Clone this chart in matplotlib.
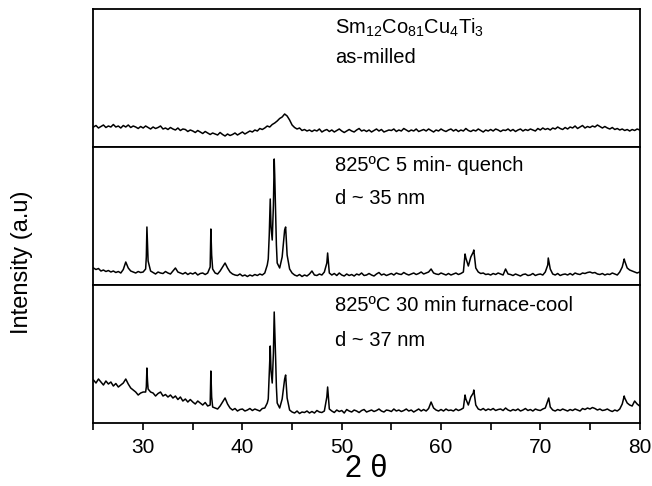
import numpy as np
import matplotlib
matplotlib.use("Agg")
import matplotlib.pyplot as plt
from matplotlib.ticker import MultipleLocator

plt.rcParams["font.family"] = ["Liberation Sans", "DejaVu Sans"]
plt.rcParams["mathtext.fontset"] = "custom"
plt.rcParams["mathtext.rm"] = "Liberation Sans"
plt.rcParams["mathtext.it"] = "Liberation Sans:italic"

# 2-theta grid of the scans (0.25 deg step, 25..80)
two_theta = np.arange(25, 80.001, 0.25)

# as-milled (top panel), intensities on the grid
milled_y = [
    20, 21.5, 19, 20.5, 22, 19.5, 21, 20,
    22.5, 20, 21, 19, 21.5, 20, 22, 19.5,
    21, 20, 18.5, 20.5, 19, 21, 19.5, 18,
    20, 18.5, 19.5, 21, 18, 19, 17.5, 19.5,
    18, 17, 19, 16.5, 18, 17.5, 15.5, 17,
    16, 14.5, 16.5, 15, 13.5, 15.5, 14, 12.5,
    14, 13, 12, 14.5, 12.5, 11, 13, 11.5,
    12.5, 14, 12, 13.5, 15, 13, 14.5, 16,
    15, 17, 16, 18.5, 17.5, 19, 21, 20,
    22.5, 24, 26, 28.5, 30, 33, 31, 27,
    22, 19.5, 18, 19, 16.5, 17.5, 16, 17,
    15.5, 17, 16, 18, 15, 16.5, 17.5, 15.5,
    17, 15, 16.5, 18, 16, 14.5, 16, 17.5,
    16, 15, 17, 18.5, 16, 17, 15.5, 17,
    15, 16.5, 18, 16, 17.5, 15, 16, 17,
    16.5, 18, 15.5, 17, 16, 18.5, 17, 15.5,
    17, 16, 18, 15.5, 16.5, 17.5, 16, 18,
    16.5, 15, 17, 16, 18, 16.5, 15.5, 17,
    18, 16, 17.5, 15.5, 17, 16, 18.5, 16.5,
    15.5, 17, 16, 18, 16.5, 15, 17, 16,
    17.5, 16, 18, 17, 15.5, 17, 16.5, 18,
    16, 17.5, 15.5, 17, 18, 16, 17.5, 16.5,
    18, 17, 16, 18.5, 17, 19, 17.5, 18.5,
    17, 19, 18, 20, 18.5, 17.5, 19.5, 18,
    20, 19, 21, 18.5, 20, 21.5, 19, 20.5,
    19.5, 21, 20, 22, 20.5, 19, 20.5, 19,
    18, 19.5, 17.5, 18.5, 17, 18, 16.5, 17.5,
    16, 17.5, 16.5, 18, 17,
]

# 825C 5 min quench (middle panel)
quench_y = [
    17, 15.5, 16.5, 14, 15, 13.5, 14.5, 13,
    14, 12.5, 13.5, 12, 15.5, 23, 17, 14,
    13, 12, 13.5, 12.5, 13, 16, 24, 14,
    12.5, 11, 13, 12, 11.5, 13.5, 12, 11,
    14, 17, 13, 12, 11, 12.5, 10.5, 12,
    11, 12.5, 10, 11.5, 12, 10.5, 12, 18,
    16, 12, 11, 14, 18, 22, 17, 13,
    11, 10, 9.5, 11, 9, 10, 8.5, 10,
    9, 10.5, 9.5, 11, 10, 12, 20, 70,
    45, 110, 22, 17, 28, 55, 30, 16,
    12, 10, 9, 10.5, 8.5, 10, 9, 11,
    14, 10, 9.5, 11, 10, 13, 22, 12,
    10, 11.5, 9.5, 12, 10, 9, 11, 9.5,
    10.5, 9, 11, 10, 12, 9.5, 10, 11.5,
    10, 9, 11, 12.5, 10, 11, 9.5, 10.5,
    11.5, 10, 12, 11, 10.5, 12.5, 11, 10,
    11, 12, 10.5, 11.5, 13, 11, 12, 13,
    16, 12, 11, 10.5, 12, 11, 10, 11.5,
    10, 11, 12, 10.5, 11.5, 13, 27, 19,
    28, 33, 17, 13, 11.5, 12, 10.5, 11,
    10, 11.5, 10.5, 12, 11, 10, 16, 11,
    10.5, 9.5, 11, 10, 9, 10.5, 11, 9.5,
    10, 11.5, 9.5, 10.5, 11, 10, 13, 20,
    16, 11, 10, 11.5, 9.5, 10.5, 11, 10,
    11.5, 10, 12, 11, 10.5, 12, 11.5, 12.5,
    13, 12, 12.5, 11, 10.5, 11.5, 10, 11,
    10.5, 12, 11, 10, 13, 18, 24, 17,
    15, 14, 13, 12, 13,
]
# extra points on the sharp reflections
quench_peak_x = [30.32, 30.38, 30.44, 36.82, 36.9, 42.6, 42.7, 42.8, 42.88,
                 43.12, 43.2, 43.35, 43.42, 44.35, 48.58, 62.42, 63.3, 70.8, 78.45]
quench_peak_y = [28, 58, 42, 56, 30, 26, 50, 86, 58,
                 80, 126, 70, 40, 58, 32, 31, 35, 27, 26]

# 825C 30 min furnace-cool (bottom panel)
furnace_y = [
    43, 40, 44, 41, 38, 42, 39, 41,
    37, 39.5, 36, 38, 40, 44, 39, 35,
    33, 31, 28, 30, 31, 31, 34, 31,
    30, 27, 29.5, 31, 27, 28.5, 26, 28,
    25, 27, 23.5, 26, 22, 24, 21, 23.5,
    21, 19, 22, 20, 18, 20.5, 17, 18,
    16, 15, 14, 17, 21, 25, 19, 15,
    13, 14.5, 12, 13.5, 14, 12, 13, 14.5,
    12.5, 14, 13, 12, 14.5, 15, 20, 62,
    40, 95, 20, 15, 24, 44, 25, 13,
    11, 10, 12, 9.5, 11, 10.5, 12, 10,
    11.5, 10, 12.5, 11, 10.5, 12, 26, 14,
    12, 10.5, 13, 11.5, 12.5, 10, 13.5, 12,
    11, 13, 12, 10.5, 12.5, 13.5, 11, 12,
    13, 11.5, 12.5, 14, 12, 11, 13, 12.5,
    11.5, 14, 12, 13, 11.5, 12.5, 14, 12,
    13, 11, 12.5, 14, 12, 13.5, 12, 14.5,
    21, 15, 13, 12, 13.5, 12, 14, 12.5,
    13, 12, 14, 12.5, 13.5, 15, 24, 18,
    26, 30, 18, 14, 13, 14.5, 12.5, 14,
    13, 14.5, 12.5, 13.5, 14, 12.5, 15, 13,
    12, 13.5, 12.5, 14, 12, 13, 14.5, 12.5,
    13.5, 12, 14, 13, 12.5, 14, 15, 22,
    16, 13, 12, 13.5, 12.5, 14, 13, 12,
    13.5, 12.5, 14, 13, 12, 14.5, 13.5, 15,
    14, 15.5, 14.5, 13, 14, 12.5, 13, 14,
    12.5, 11.5, 13, 12, 14, 19, 25, 20,
    18, 17, 22, 19, 17,
]
furnace_peak_x = [30.32, 30.38, 30.44, 36.82, 36.9, 42.6, 42.7, 42.8, 42.88,
                  43.12, 43.2, 43.35, 43.42, 44.35, 48.58, 62.42, 63.3, 70.85, 78.45]
furnace_peak_y = [36, 55, 42, 52, 26, 24, 48, 77, 52,
                  70, 111, 62, 36, 48, 36, 28, 33, 25, 27]

labels = [
    ["Sm$_{12}$Co$_{81}$Cu$_{4}$Ti$_{3}$", "as-milled"],
    ["825ºC 5 min- quench", "d ~ 35 nm"],
    ["825ºC 30 min furnace-cool", "d ~ 37 nm"],
]


def merge(x_grid, y_grid, x_extra=(), y_extra=()):
    x = np.concatenate([x_grid, x_extra])
    y = np.concatenate([y_grid, y_extra])
    order = np.argsort(x, kind="stable")
    return x[order], y[order]


series = [
    merge(two_theta, milled_y),
    merge(two_theta, quench_y, quench_peak_x, quench_peak_y),
    merge(two_theta, furnace_y, furnace_peak_x, furnace_peak_y),
]

fig = plt.figure(figsize=(6.52, 4.86), dpi=100)
gs = fig.add_gridspec(3, 1, left=0.1434, right=0.981, top=0.9815, bottom=0.1296,
                      hspace=0)
axes = [fig.add_subplot(gs[i]) for i in range(3)]

text_y = [(0.862, 0.648), (0.868, 0.625), (0.855, 0.600)]

for i, ax in enumerate(axes):
    x, y = series[i]
    ax.plot(x, y, color="black", lw=1.1)
    ax.set_xlim(25, 80)
    ax.set_ylim(0, 138)
    ax.set_yticks([])
    for s in ax.spines.values():
        s.set_linewidth(1.3)
    ax.text(0.442, text_y[i][0], labels[i][0], transform=ax.transAxes,
            fontsize=14.5, va="center", ha="left")
    ax.text(0.442, text_y[i][1], labels[i][1], transform=ax.transAxes,
            fontsize=14.5, va="center", ha="left")
    if i < 2:
        ax.tick_params(axis="x", which="both", bottom=False, labelbottom=False)

ax = axes[2]
ax.xaxis.set_major_locator(MultipleLocator(10))
ax.xaxis.set_minor_locator(MultipleLocator(5))
ax.tick_params(axis="x", which="major", direction="out", length=5, width=1.2,
               labelsize=15, pad=6)
ax.tick_params(axis="x", which="minor", direction="out", length=5, width=1.2)

fig.text(22 / 652, 1 - 262 / 486, "Intensity (a.u)", rotation=90,
         fontsize=17, ha="center", va="center")
fig.text(366 / 652, 1 - 469 / 486, "2 θ", fontsize=22,
         ha="center", va="center")

fig.savefig("out.png", dpi=100)
